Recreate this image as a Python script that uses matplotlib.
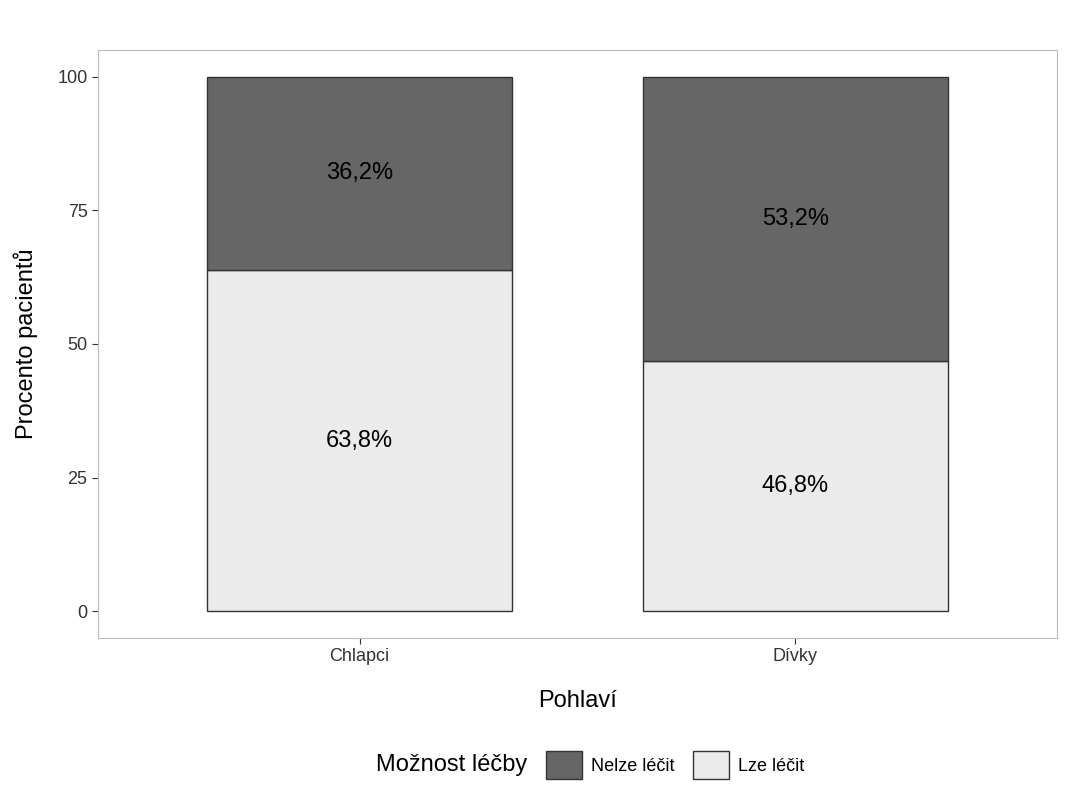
import matplotlib
matplotlib.use("Agg")
import matplotlib.pyplot as plt
from matplotlib.patches import Patch

categories = ["Chlapci", "Dívky"]
lze = [63.8, 46.8]
nelze = [36.2, 53.2]
yticks = [0, 25, 50, 75, 100]

plt.rcParams['font.family'] = ['Liberation Sans', 'DejaVu Sans']
fig = plt.figure(figsize=(10.67, 8), dpi=100)
ax = fig.add_axes([98/1067, 1-638/800, (1057-98)/1067, (638-50)/800])
x = [1, 2]
dark, light = "#666666", "#ebebeb"
ax.bar(x, lze, width=0.7, color=light, edgecolor="#333333", linewidth=1)
ax.bar(x, nelze, bottom=lze, width=0.7, color=dark, edgecolor="#333333", linewidth=1)
for xi, a, b in zip(x, lze, nelze):
    ax.text(xi, a/2, f"{a:.1f}%".replace(".", ","), ha="center", va="center", fontsize=17)
    ax.text(xi, a + b/2, f"{b:.1f}%".replace(".", ","), ha="center", va="center", fontsize=17)
ax.set_xlim(0.4, 2.6)
ax.set_ylim(-5, 105)
ax.set_xticks(x)
ax.set_xticklabels(categories)
ax.set_yticks(yticks)
ax.tick_params(labelsize=13, colors="#333333", length=4)
ax.tick_params(axis="x", labelcolor="#333333")
for s in ax.spines.values():
    s.set_color("#bbbbbb")
ax.set_xlabel("Pohlaví", fontsize=17, labelpad=18)
ax.set_ylabel("Procento pacientů", fontsize=17, labelpad=14)

handles = [Patch(facecolor=dark, edgecolor="#333333"), Patch(facecolor=light, edgecolor="#333333")]
fig.legend(handles, ["Nelze léčit", "Lze léčit"], ncol=2, loc="center left",
           bbox_to_anchor=(530/1067, 1-765/800), frameon=False, fontsize=13,
           handlelength=2.0, handleheight=2.0, columnspacing=1.0, handletextpad=0.5)
fig.text(527/1067, 1-765/800, "Možnost léčby", ha="right", va="center", fontsize=17)
fig.savefig("out.png", dpi=100)
